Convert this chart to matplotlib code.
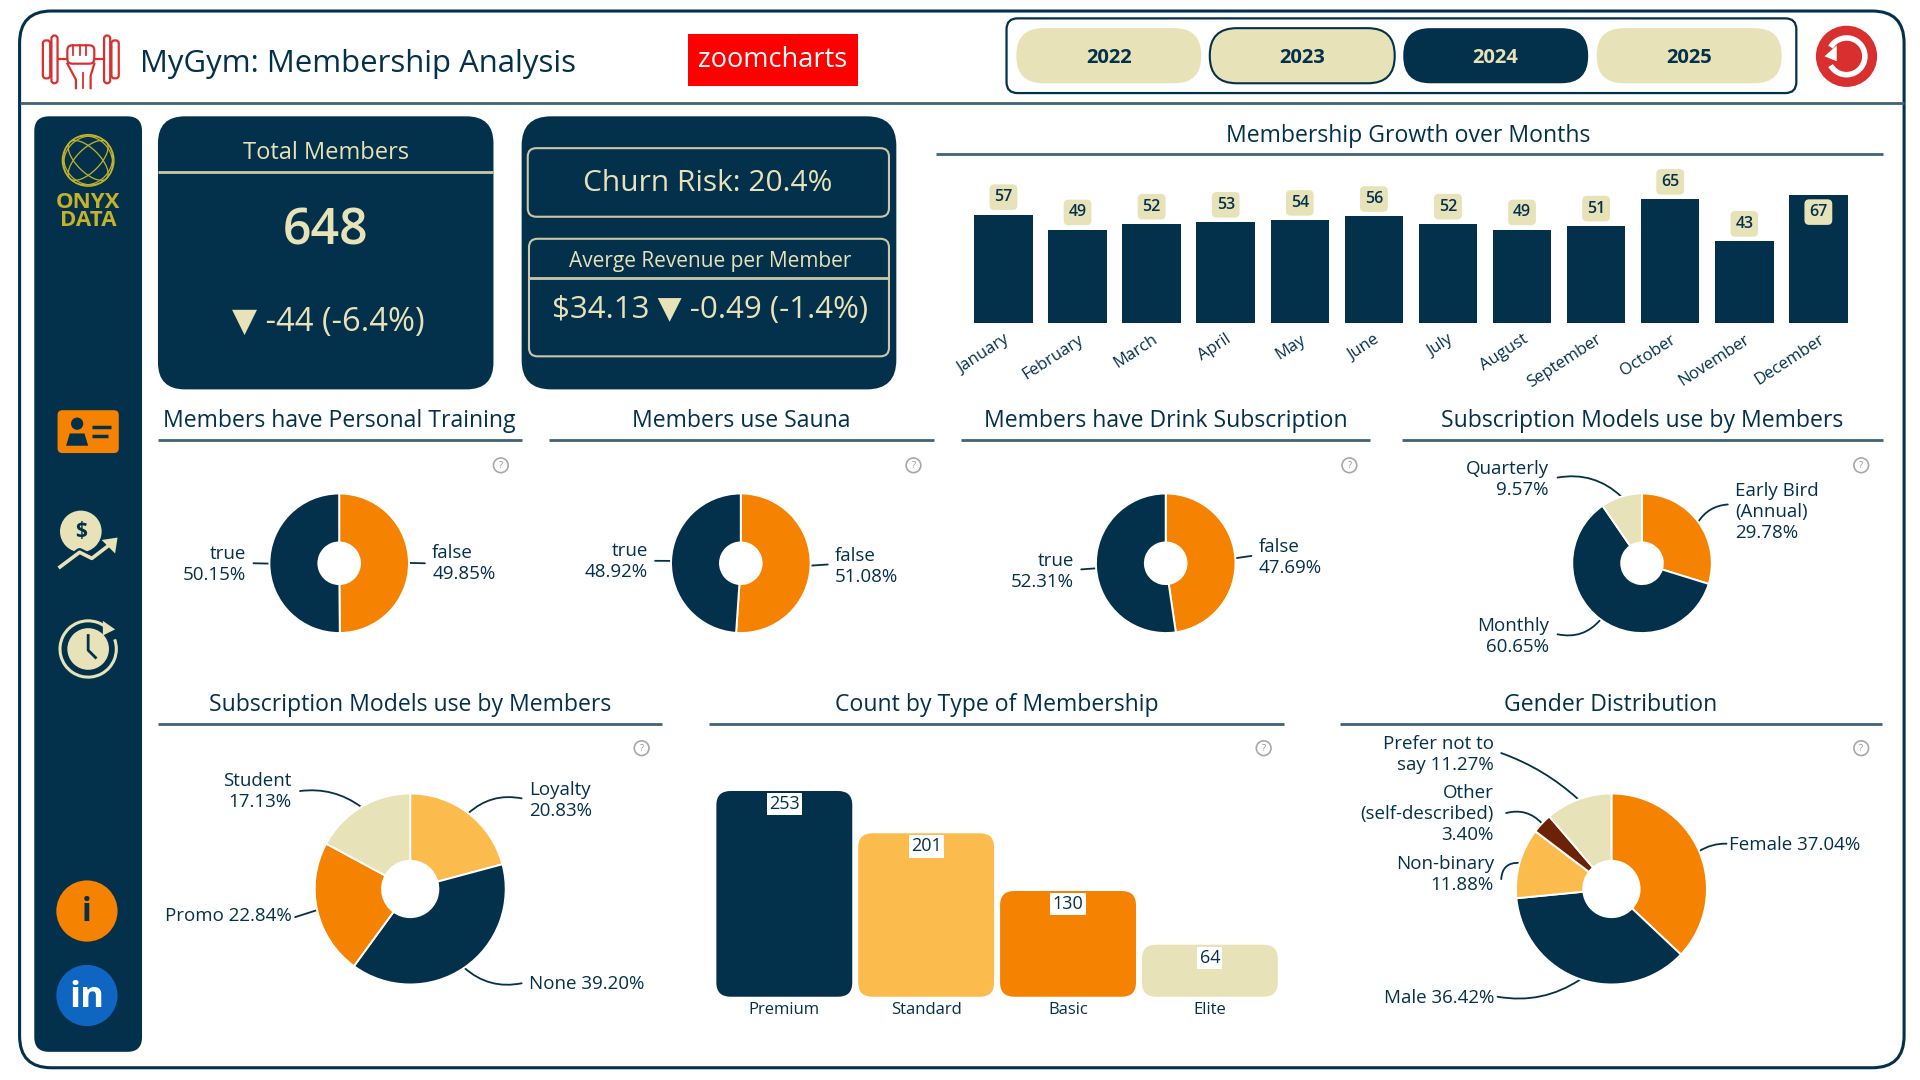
import matplotlib
matplotlib.use('Agg')
import numpy as np
import matplotlib.pyplot as plt
from matplotlib.patches import FancyBboxPatch, Circle, Arc, Polygon, Rectangle

plt.rcParams['font.family'] = ['Open Sans', 'DejaVu Sans']

NAVY = '#03304b'
CREAM = '#e8e2b8'
ORANGE = '#f58200'
YELLOW = '#fbbc4d'
BROWN = '#6b2205'
RED = '#d9302f'
LINE = '#3f6478'

# chart data
years = ['2022', '2023', '2024', '2025']
months = ['January', 'February', 'March', 'April', 'May', 'June', 'July',
          'August', 'September', 'October', 'November', 'December']
month_members = [57, 49, 52, 53, 54, 56, 52, 49, 51, 65, 43, 67]
training = [49.85, 50.15]
sauna = [51.08, 48.92]
drink = [47.69, 52.31]
sub_models = [29.78, 60.65, 9.57]
sub_models2 = [20.83, 39.20, 22.84, 17.13]
gender = [37.04, 36.42, 11.88, 3.40, 11.27]
member_types = ['Premium', 'Standard', 'Basic', 'Elite']
type_counts = [253, 201, 130, 64]

W, H = 1568, 882  # layout units, scaled up to 1920x1080 by the figure
fig = plt.figure(figsize=(19.2, 10.8), dpi=100)
bg = fig.add_axes([0, 0, 1, 1])
bg.set_xlim(0, W)
bg.set_ylim(H, 0)
bg.axis('off')


def box(x0, y0, x1, y1, r, fc='none', ec='none', lw=1.5, z=1):
    p = FancyBboxPatch((x0 + r, y0 + r), x1 - x0 - 2 * r, y1 - y0 - 2 * r,
                       boxstyle='round,pad=%f,rounding_size=%f' % (r, r),
                       fc=fc, ec=ec, lw=lw, zorder=z)
    bg.add_patch(p)
    return p


def txt(x, y, s, size, color=NAVY, ha='center', weight='normal', **kw):
    return bg.text(x, y, s, fontsize=size, color=color, ha=ha, va='center',
                   weight=weight, zorder=5, **kw)


def hline(x0, x1, y, color=LINE, lw=2, z=2):
    bg.plot([x0, x1], [y, y], color=color, lw=lw, solid_capstyle='butt', zorder=z)


def place_axes(x0, y0, x1, y1):
    ax = fig.add_axes([x0 / W, 1 - y1 / H, (x1 - x0) / W, (y1 - y0) / H])
    ax.patch.set_alpha(0)
    return ax


def section(cx, y, x0, x1, title):
    txt(cx, y + 2, title, 16.6)
    hline(x0, x1, y + 17)


def help_icon(x, y):
    bg.add_patch(Circle((x, y), 6, fc='white', ec='#a8a8a8', lw=1.2))
    txt(x, y, '?', 6.5, color='#909090')


def donut(cx, cy, r, hole, values, colors, labels, size=13.5):
    ax = place_axes(cx - r, cy - r, cx + r, cy + r)
    ax.pie(values, colors=colors, radius=1, startangle=90, counterclock=False,
           wedgeprops=dict(width=1 - hole / r, edgecolor='white', linewidth=1.4))
    ax.set_xlim(-1, 1)
    ax.set_ylim(-1, 1)
    # leader line runs from the middle of each slice to its label
    mids = (np.cumsum(values) - np.array(values) / 2) / 100 * 2 * np.pi
    for mid, (s, tx, ty, ha, lx, ly, rad) in zip(mids, labels):
        txt(tx, ty, s, size, ha=ha, linespacing=1.2)
        tip = (cx + r * np.sin(mid), cy - r * np.cos(mid))
        bg.annotate('', xy=tip, xytext=(lx, ly),
                    arrowprops=dict(arrowstyle='-', color=NAVY, lw=1.3,
                                    shrinkA=0, shrinkB=0,
                                    connectionstyle='arc3,rad=%f' % rad))


# outer frame and header
box(16, 9, 1555, 872, 26, fc='white', ec=NAVY, lw=2.2, z=0)
hline(16, 1555, 84, lw=2)

# dumbbell logo
for x0, x1, y0, y1 in [(35, 41, 33, 64), (42, 47, 29, 68), (85, 90, 29, 68), (91, 97, 33, 64)]:
    box(x0, y0, x1, y1, 2.5, ec=RED, lw=1.6)
bg.plot([47, 55], [48, 48], color=RED, lw=1.6)
bg.plot([77, 85], [48, 48], color=RED, lw=1.6)
box(55, 37, 77, 52, 4, ec=RED, lw=1.6)
for x in [60, 65, 70]:
    bg.plot([x, x], [37, 45], color=RED, lw=1.3)
bg.plot([55, 62, 62], [52, 65, 72], color=RED, lw=1.6)
bg.plot([77, 74, 74], [52, 62, 72], color=RED, lw=1.6)
bg.plot([68, 68], [60, 72], color=RED, lw=1.3)

txt(114, 52, 'MyGym: Membership Analysis', 22.4, ha='left')

bg.add_patch(Rectangle((562, 28), 139, 42, fc='#ff0000', ec='none'))
txt(631, 49, 'zoomcharts', 19.5, color='white')

# year slicer
box(822, 15, 1467, 76, 9, fc='white', ec=NAVY, lw=1.6)
btn_x = [830, 988, 1146, 1304]
for i, y in enumerate(years):
    sel = y == '2024'
    box(btn_x[i], 23, btn_x[i] + 151, 68, 22, fc=NAVY if sel else CREAM,
        ec=NAVY if y == '2023' else 'none', z=2)
    txt(btn_x[i] + 75.5, 47.5, y, 14.5, color=CREAM if sel else NAVY, weight='bold')

# reset button
bg.add_patch(Circle((1508, 46), 25, fc=RED, ec='none', zorder=2))
bg.add_patch(Arc((1508, 46), 30, 30, theta1=-150, theta2=150, ec='white', lw=4, zorder=3))
bg.add_patch(Polygon([[1490, 46], [1500, 37], [1500, 50]], fc='white', ec='none', zorder=3))

# side bar
box(28, 95, 116, 859, 12, fc=NAVY)
GOLD = '#c4b22a'
bg.add_patch(Circle((72, 131), 21, fc='none', ec=GOLD, lw=1.1, zorder=3))
for a in [0.45, 0.9]:
    bg.add_patch(Arc((72, 131), 42 * a, 42, ec=GOLD, lw=0.9, angle=45, zorder=3))
    bg.add_patch(Arc((72, 131), 42 * a, 42, ec=GOLD, lw=0.9, angle=-45, zorder=3))
txt(72, 165, 'ONYX', 16, color=GOLD, weight='bold')
txt(72, 180, 'DATA', 16, color=GOLD, weight='bold')

box(47, 335, 97, 370, 4, fc=ORANGE, z=3)
bg.add_patch(Circle((63, 346), 5, fc=NAVY, zorder=4))
bg.add_patch(Polygon([[54, 364], [57, 354], [69, 354], [72, 364]], fc=NAVY, zorder=4))
hline(75, 91, 349, color=NAVY, lw=2.5, z=4)
hline(75, 88, 356, color=NAVY, lw=2.5, z=4)

bg.add_patch(Circle((66, 434), 17, fc=CREAM, zorder=3))
txt(66, 434, '$', 15, weight='bold')
bg.plot([49, 65, 75, 92], [463, 451, 456, 443], color=NAVY, lw=6, zorder=4)
bg.plot([49, 65, 75, 92], [463, 451, 456, 443], color=CREAM, lw=2.6, zorder=5)
bg.add_patch(Polygon([[96, 439], [83, 441], [94, 452]], fc=CREAM, zorder=5))

bg.add_patch(Arc((72, 530), 46, 46, theta1=-20, theta2=310, ec=CREAM, lw=2.2, zorder=3))
bg.add_patch(Circle((72, 530), 17, fc=CREAM, zorder=3))
bg.plot([72, 72, 78], [519, 531, 537], color=NAVY, lw=2, zorder=4)
bg.add_patch(Polygon([[84, 507], [94, 514], [84, 519]], fc=CREAM, zorder=3))

bg.add_patch(Circle((71, 744), 25, fc=ORANGE, zorder=3))
txt(71, 745, 'i', 23, weight='bold')
bg.add_patch(Circle((71, 813), 25, fc='#0f66c2', zorder=3))
txt(71, 815, 'in', 26, color='white', weight='bold')

# KPI cards
box(129, 95, 403, 318, 22, fc=NAVY)
txt(266, 125, 'Total Members', 17, color=CREAM)
hline(129, 403, 140.5, color='#c9c8a8')
txt(266, 189, '648', 36, color=CREAM, weight='semibold')
txt(268, 263, '▼ -44 (-6.4%)', 23.5, color=CREAM)

box(426, 95, 732, 318, 24, fc=NAVY)
box(431, 121, 726, 177, 7, ec='#c9c8a8', lw=1.5, z=2)
txt(578, 150, 'Churn Risk: 20.4%', 21.5, color=CREAM)
box(432, 195, 726, 291, 7, ec='#c9c8a8', lw=1.5, z=2)
txt(580, 213.5, 'Averge Revenue per Member', 15, color=CREAM)
hline(432, 726, 227, color='#c9c8a8')
txt(580, 253, '$34.13 ▼ -0.49 (-1.4%)', 22.5, color=CREAM)

# monthly bar chart
section(1150, 109, 764, 1538, 'Membership Growth over Months')
ax = place_axes(789.25, 130, 1515.25, 264)
x = np.arange(len(months))
ax.bar(x, month_members, width=0.79, color=NAVY)
ax.set_xlim(-0.5, 11.5)
ax.set_ylim(0, 86)
ax.set_yticks([])
ax.set_xticks(x)
ax.set_xticklabels(months, rotation=33, ha='right', rotation_mode='anchor',
                   fontsize=12, color=NAVY)
ax.tick_params(axis='x', length=0, pad=6)
for s in ax.spines.values():
    s.set_visible(False)
for i, v in enumerate(month_members):
    off = -12 if v == max(month_members) else 12.5
    ax.annotate(str(v), (i, v), xytext=(0, off), textcoords='offset points',
                ha='center', va='center', fontsize=11.5, weight='semibold', color=NAVY,
                bbox=dict(boxstyle='round,pad=0.3', fc=CREAM, ec='none'))

# donut row
section(277, 342, 129, 426, 'Members have Personal Training')
section(605, 342, 448, 763, 'Members use Sauna')
section(952, 342, 785, 1119, 'Members have Drink Subscription')
section(1341, 342, 1145, 1538, 'Subscription Models use by Members')
for p in [(409, 380), (746, 380), (1102, 380), (1520, 380), (524, 611), (1032, 611), (1520, 611)]:
    help_icon(*p)

two = [ORANGE, NAVY]
donut(277, 460, 57, 17, training, two,
      [('false\n49.85%', 353, 460.5, 'left', 347, 460, 0),
       ('true\n50.15%', 201, 461, 'right', 207, 460, 0)])
donut(605, 460, 57, 17, sauna, two,
      [('false\n51.08%', 682, 462.5, 'left', 676, 461, 0),
       ('true\n48.92%', 529, 458.5, 'right', 535, 458, 0)])
donut(952, 460, 57, 17, drink, two,
      [('false\n47.69%', 1028, 455.5, 'left', 1022, 454, 0),
       ('true\n52.31%', 877, 466.5, 'right', 883, 465, 0)])
donut(1341, 460, 57, 17, sub_models, [ORANGE, NAVY, CREAM],
      [('Early Bird\n(Annual)\n29.78%', 1417, 418, 'left', 1411, 412, 0.25),
       ('Monthly\n60.65%', 1265, 519.5, 'right', 1272, 518, 0.3),
       ('Quarterly\n9.57%', 1265, 391.5, 'right', 1272, 390, -0.25)])

# bottom row
section(335, 574, 129, 541, 'Subscription Models use by Members')
section(814, 574, 579, 1049, 'Count by Type of Membership')
section(1315, 574, 1094, 1537, 'Gender Distribution')

donut(335, 726, 78, 23, sub_models2, [YELLOW, NAVY, ORANGE, CREAM],
      [('Loyalty\n20.83%', 432, 653.5, 'left', 426, 652, 0.25),
       ('None 39.20%', 432, 804, 'left', 426, 803, -0.25),
       ('Promo 22.84%', 238, 748, 'right', 241, 749, 0),
       ('Student\n17.13%', 238, 646.5, 'right', 245, 646, -0.2)])
donut(1316, 726, 78, 23, gender, [ORANGE, NAVY, YELLOW, BROWN, CREAM],
      [('Female 37.04%', 1412, 690, 'left', 1410, 689, 0.15),
       ('Male 36.42%', 1220, 815, 'right', 1223, 814, 0.2),
       ('Non-binary\n11.88%', 1220, 714.5, 'right', 1226, 718, -0.5),
       ('Other\n(self-described)\n3.40%', 1220, 665, 'right', 1230, 664, -0.3),
       ('Prefer not to\nsay 11.27%', 1220, 616, 'right', 1226, 615, -0.1)])

# membership type bars with rounded corners
ax = place_axes(582.6, 640, 1046, 814)
x = np.arange(len(member_types))
bars = ax.bar(x, type_counts, width=0.958)
ax.set_xlim(-0.5, 3.5)
ax.set_ylim(0, 262)
for b, c in zip(bars, [NAVY, YELLOW, ORANGE, CREAM]):
    b.set_visible(False)
    ax.add_patch(FancyBboxPatch((b.get_x(), b.get_y()), b.get_width(), b.get_height(),
                                boxstyle='round,pad=0,rounding_size=0.1',
                                mutation_aspect=173, fc=c, ec='none'))
ax.set_yticks([])
ax.set_xticks(x)
ax.set_xticklabels(member_types, fontsize=12, color=NAVY)
ax.tick_params(axis='x', length=0, pad=4)
for s in ax.spines.values():
    s.set_visible(False)
for i, v in enumerate(type_counts):
    ax.annotate(str(v), (i, v), xytext=(0, -9.5), textcoords='offset points',
                ha='center', va='center', fontsize=13, color=NAVY,
                bbox=dict(boxstyle='square,pad=0.12', fc='white', ec='none'))

fig.savefig('out.png', dpi=100)
